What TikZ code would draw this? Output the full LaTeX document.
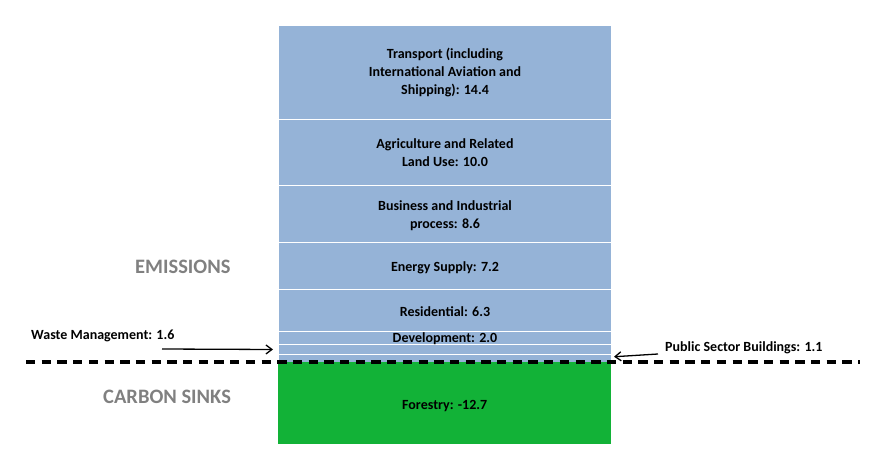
\documentclass[tikz,border=0pt]{standalone}
\usepackage{fontspec}
\setmainfont{Carlito}
\usetikzlibrary{arrows.meta}
\definecolor{bandblue}{RGB}{149,179,215}
\definecolor{sinkgreen}{RGB}{18,178,55}
\definecolor{labelgray}{RGB}{128,128,128}
\tikzset{
  band/.style={fill=bandblue, draw=white, line width=1pt, inner sep=0pt, minimum width=333pt, anchor=north west},
  sink/.style={fill=sinkgreen, draw=none, inner sep=0pt, minimum width=333pt, anchor=north west},
  bandtext/.style={font=\bfseries\fontsize{14}{18}\selectfont, align=center, inner sep=0pt, text=black},
  sidelabel/.style={font=\bfseries\fontsize{14}{18}\selectfont, inner sep=0pt, anchor=base west, text=black},
  biglabel/.style={font=\bfseries\fontsize{20.5}{24}\selectfont, inner sep=0pt, anchor=base west, text=labelgray},
  pointer/.style={line width=1.3pt, -{Straight Barb[length=6pt,width=9pt,line width=1.3pt]}},
  zeroline/.style={line width=3.6pt, dash pattern=on 9.3pt off 6.4pt}
}
\begin{document}
\begin{tikzpicture}[x=1pt,y=-1pt]
\useasboundingbox (0,0) rectangle (876,455);
% emission bands
\node[band, minimum height=94pt] (transport) at (278,25) {};
\node[band, minimum height=66pt] (agri) at (278,119) {};
\node[band, minimum height=57pt] (business) at (278,185) {};
\node[band, minimum height=47pt] (energy) at (278,242) {};
\node[band, minimum height=41.5pt] (resid) at (278,289) {};
\node[band, minimum height=13.5pt] (devel) at (278,330.5) {};
\node[band, minimum height=10pt] (waste) at (278,344) {};
\node[band, minimum height=7.5pt] (public) at (278,354) {};
% sink band
\node[sink, minimum height=82.5pt] (forest) at (278,361.5) {};
% band texts
\node[bandtext] (ttransport) at (transport.center) {Transport (including\\International Aviation and\\Shipping): 14.4};
\node[bandtext] (tagri) at (agri.center) {Agriculture and Related\\Land Use: 10.0};
\node[bandtext] (tbusiness) at ([yshift=-2pt]business.center) {Business and Industrial\\process: 8.6};
\node[bandtext] (tenergy) at ([yshift=-1.5pt]energy.center) {Energy Supply: 7.2};
\node[bandtext] (tresid) at ([yshift=-1pt]resid.center) {Residential: 6.3};
\node[bandtext] (tdevel) at ([yshift=-1pt]devel.center) {Development: 2.0};
\node[bandtext] (tforest) at ([yshift=-3.5pt]forest.center) {Forestry: -12.7};
% zero line
\coordinate (zl) at (26,362);
\coordinate (zr) at (860,362);
\draw[zeroline] (zl) -- (zr);
% side labels
\node[biglabel] (emis) at (135,273.3) {EMISSIONS};
\node[biglabel] (sinks) at (103,403) {CARBON SINKS};
\node[sidelabel] (lwaste) at (31,339.5) {Waste Management: 1.6};
\node[sidelabel] (lpublic) at (665,351) {Public Sector Buildings: 1.1};
% pointers
\coordinate (wstart) at (162,349);
\coordinate (pstart) at (658,354);
\draw[pointer] (wstart) -- ([xshift=-5pt]waste.west);
\draw[pointer] (pstart) -- ([xshift=2pt,yshift=1.5pt]public.east);
\end{tikzpicture}
\end{document}
